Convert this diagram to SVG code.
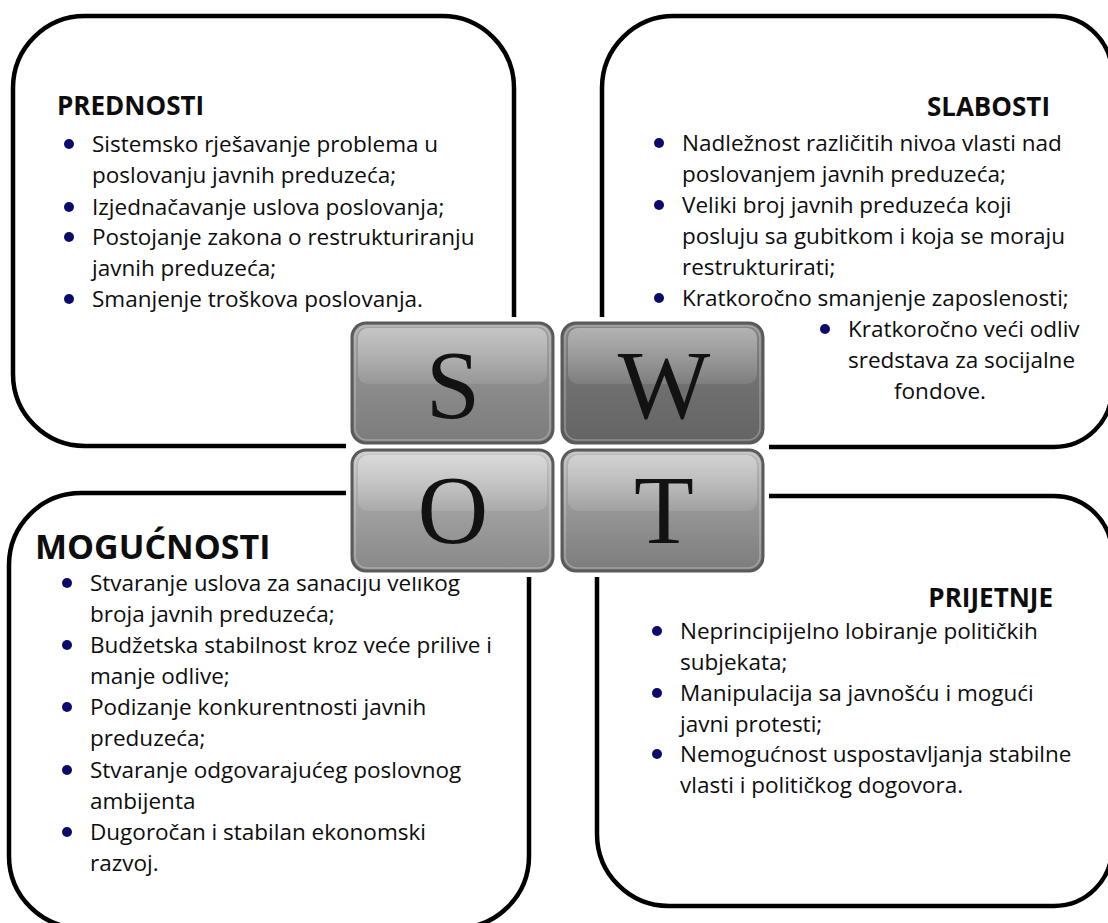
<svg xmlns="http://www.w3.org/2000/svg" width="1108" height="923" viewBox="0 0 1108 923">
<defs>
<style>
.box{fill:#fff;stroke:#000;stroke-width:4.5}
.t{font-family:"Open Sans","Noto Sans","DejaVu Sans",sans-serif;font-size:22.5px;fill:#0d0d0d}
.h{font-family:"Open Sans","Noto Sans","DejaVu Sans",sans-serif;font-size:26px;font-weight:700;fill:#0d0d0d}
.b{fill:#0b0b6b}
.tile{stroke:#5a5a5a;stroke-width:3}
.inner{fill:none;stroke:#fff;stroke-opacity:0.28;stroke-width:1.5}
.hl{fill:url(#gH)}
.L{font-family:"Liberation Serif","Times New Roman",serif;font-size:98px;fill:#121212;text-anchor:middle}
</style>
<linearGradient id="gS" x1="0" y1="0" x2="0" y2="1"><stop offset="0" stop-color="#a4a4a4"/><stop offset="0.5" stop-color="#8c8c8c"/><stop offset="1" stop-color="#7c7c7c"/></linearGradient>
<linearGradient id="gW" x1="0" y1="0" x2="0" y2="1"><stop offset="0" stop-color="#868686"/><stop offset="0.5" stop-color="#707070"/><stop offset="1" stop-color="#646464"/></linearGradient>
<linearGradient id="gO" x1="0" y1="0" x2="0" y2="1"><stop offset="0" stop-color="#c6c6c6"/><stop offset="0.5" stop-color="#a0a0a0"/><stop offset="1" stop-color="#888"/></linearGradient>
<linearGradient id="gT" x1="0" y1="0" x2="0" y2="1"><stop offset="0" stop-color="#bababa"/><stop offset="0.5" stop-color="#969696"/><stop offset="1" stop-color="#7c7c7c"/></linearGradient>
<linearGradient id="gH" x1="0" y1="0" x2="0" y2="1"><stop offset="0" stop-color="#fff" stop-opacity="0.38"/><stop offset="1" stop-color="#fff" stop-opacity="0.1"/></linearGradient>
</defs>
<rect width="1108" height="923" fill="#fff"/>

<g id="prednosti">
<rect class="box" x="13" y="16" width="501" height="430" rx="72"/>
<text class="h" x="57" y="115">PREDNOSTI</text>
<circle class="b" cx="69" cy="144" r="5"/>
<text class="t" x="92" y="152">Sistemsko rješavanje problema u</text>
<text class="t" x="92" y="183">poslovanju javnih preduzeća;</text>
<circle class="b" cx="69" cy="207" r="5"/>
<text class="t" x="92" y="215">Izjednačavanje uslova poslovanja;</text>
<circle class="b" cx="69" cy="237" r="5"/>
<text class="t" x="92" y="245">Postojanje zakona o restrukturiranju</text>
<text class="t" x="92" y="276">javnih preduzeća;</text>
<circle class="b" cx="69" cy="299" r="5"/>
<text class="t" x="92" y="307">Smanjenje troškova poslovanja.</text>
</g>

<g id="slabosti">
<path class="box" d="M674 16 H1054 A58 58 0 0 1 1112 74 V389 A58 58 0 0 1 1054 447 H674 A72 72 0 0 1 602 375 V88 A72 72 0 0 1 674 16 Z"/>
<text class="h" x="1050" y="116" text-anchor="end">SLABOSTI</text>
<circle class="b" cx="659" cy="143" r="5"/>
<text class="t" x="682" y="151">Nadležnost različitih nivoa vlasti nad</text>
<text class="t" x="682" y="182">poslovanjem javnih preduzeća;</text>
<circle class="b" cx="659" cy="205" r="5"/>
<text class="t" x="682" y="213">Veliki broj javnih preduzeća koji</text>
<text class="t" x="682" y="244">posluju sa gubitkom i koja se moraju</text>
<text class="t" x="682" y="275">restrukturirati;</text>
<circle class="b" cx="659" cy="298" r="5"/>
<text class="t" x="682" y="306">Kratkoročno smanjenje zaposlenosti;</text>
<circle class="b" cx="825" cy="329" r="5"/>
<text class="t" x="848" y="337">Kratkoročno veći odliv</text>
<text class="t" x="848" y="368">sredstava za socijalne</text>
<text class="t" x="940" y="399" text-anchor="middle">fondove.</text>
</g>

<g id="mogucnosti">
<rect class="box" x="9" y="493" width="520" height="435" rx="72"/>
<text class="h" x="35" y="559" style="font-size:34px">MOGUĆNOSTI</text>
<circle class="b" cx="67" cy="583" r="5"/>
<text class="t" x="90" y="591">Stvaranje uslova za sanaciju velikog</text>
<text class="t" x="90" y="622">broja javnih preduzeća;</text>
<circle class="b" cx="67" cy="645" r="5"/>
<text class="t" x="90" y="653">Budžetska stabilnost kroz veće prilive i</text>
<text class="t" x="90" y="684">manje odlive;</text>
<circle class="b" cx="67" cy="707" r="5"/>
<text class="t" x="90" y="715">Podizanje konkurentnosti javnih</text>
<text class="t" x="90" y="746">preduzeća;</text>
<circle class="b" cx="67" cy="770" r="5"/>
<text class="t" x="90" y="778">Stvaranje odgovarajućeg poslovnog</text>
<text class="t" x="90" y="809">ambijenta</text>
<circle class="b" cx="67" cy="832" r="5"/>
<text class="t" x="90" y="840">Dugoročan i stabilan ekonomski</text>
<text class="t" x="90" y="871">razvoj.</text>
</g>

<g id="prijetnje">
<path class="box" d="M669 496 H1054 A58 58 0 0 1 1112 554 V848 A58 58 0 0 1 1054 906 H669 A72 72 0 0 1 597 834 V568 A72 72 0 0 1 669 496 Z"/>
<text class="h" x="1053" y="607" text-anchor="end">PRIJETNJE</text>
<circle class="b" cx="657" cy="631" r="5"/>
<text class="t" x="680" y="639">Neprincipijelno lobiranje političkih</text>
<text class="t" x="680" y="670">subjekata;</text>
<circle class="b" cx="657" cy="693" r="5"/>
<text class="t" x="680" y="701">Manipulacija sa javnošću i mogući</text>
<text class="t" x="680" y="732">javni protesti;</text>
<circle class="b" cx="657" cy="754" r="5"/>
<text class="t" x="680" y="762">Nemogućnost uspostavljanja stabilne</text>
<text class="t" x="680" y="793">vlasti i političkog dogovora.</text>
</g>

<g id="swot">
<rect x="346" y="317" width="423" height="260" fill="#fff"/>
<g id="tile-s">
<rect class="tile" x="352" y="323" width="201" height="120" rx="14" fill="url(#gS)"/>
<rect class="inner" x="355" y="326" width="195" height="114" rx="12"/>
<rect class="hl" x="358" y="328" width="189" height="56" rx="10"/>
<text class="L" x="453" y="418">S</text>
</g>
<g id="tile-w">
<rect class="tile" x="562" y="323" width="201" height="120" rx="14" fill="url(#gW)"/>
<rect class="inner" x="565" y="326" width="195" height="114" rx="12"/>
<rect class="hl" x="568" y="328" width="189" height="56" rx="10"/>
<text class="L" x="664" y="418">W</text>
</g>
<g id="tile-o">
<rect class="tile" x="352" y="450" width="201" height="121" rx="14" fill="url(#gO)"/>
<rect class="inner" x="355" y="453" width="195" height="115" rx="12"/>
<rect class="hl" x="358" y="455" width="189" height="56" rx="10"/>
<text class="L" x="453" y="543">O</text>
</g>
<g id="tile-t">
<rect class="tile" x="562" y="450" width="201" height="121" rx="14" fill="url(#gT)"/>
<rect class="inner" x="565" y="453" width="195" height="115" rx="12"/>
<rect class="hl" x="568" y="455" width="189" height="56" rx="10"/>
<text class="L" x="664" y="543">T</text>
</g>
</g>
</svg>
